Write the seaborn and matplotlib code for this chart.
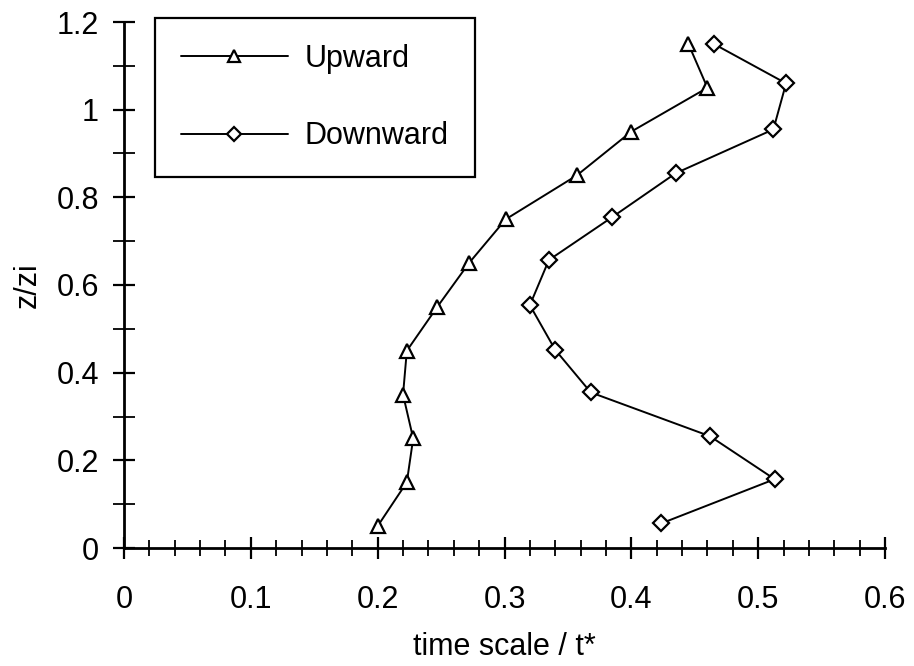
import matplotlib
matplotlib.use("Agg")
import matplotlib.pyplot as plt
import seaborn as sns
import pandas as pd
from matplotlib.ticker import MultipleLocator
from matplotlib.lines import Line2D

# data
z_levels = [1.15, 1.05, 0.95, 0.85, 0.75, 0.65, 0.55, 0.45, 0.35, 0.25, 0.15, 0.05]
upward = [0.445, 0.460, 0.400, 0.357, 0.301, 0.272, 0.247, 0.223, 0.220, 0.228, 0.223, 0.200]
z_down = [1.15, 1.06, 0.955, 0.855, 0.755, 0.657, 0.554, 0.452, 0.355, 0.255, 0.157, 0.056]
downward = [0.465, 0.522, 0.512, 0.435, 0.385, 0.335, 0.320, 0.340, 0.368, 0.462, 0.513, 0.4235]
series_names = ["Upward", "Downward"]
x_ticks = [0, 0.1, 0.2, 0.3, 0.4, 0.5, 0.6]
y_ticks = [0, 0.2, 0.4, 0.6, 0.8, 1, 1.2]

sns.set_style("ticks")
plt.rcParams["font.family"] = ["Liberation Sans", "DejaVu Sans"]
plt.rcParams["text.color"] = "black"
plt.rcParams["axes.labelcolor"] = "black"
plt.rcParams["xtick.color"] = "black"
plt.rcParams["ytick.color"] = "black"

df = pd.concat([
    pd.DataFrame({"t": upward, "z": z_levels, "dir": series_names[0]}),
    pd.DataFrame({"t": downward, "z": z_down, "dir": series_names[1]}),
], ignore_index=True)

fig = plt.figure(figsize=(9.14, 6.66), dpi=100)
ax = fig.add_axes([124 / 914, 1 - 548 / 666, (885 - 124) / 914, (548 - 22) / 666])

sns.lineplot(data=df, x="t", y="z", hue="dir", style="dir",
             palette={"Upward": "black", "Downward": "black"},
             markers={"Upward": "^", "Downward": "D"},
             dashes=False, sort=False, estimator=None, ax=ax,
             linewidth=1.4, markersize=10, markerfacecolor="white",
             markeredgecolor="black", markeredgewidth=1.6, legend=False)
for ln in ax.lines:
    if ln.get_marker() == "D":
        ln.set_markersize(8)

ax.set_xlim(0, 0.6)
ax.set_ylim(0, 1.2)
ax.set_xticks(x_ticks)
ax.set_xticklabels([f"{v:g}" for v in x_ticks])
ax.set_yticks(y_ticks)
ax.set_yticklabels([f"{v:g}" for v in y_ticks])
ax.xaxis.set_minor_locator(MultipleLocator(0.02))
ax.yaxis.set_minor_locator(MultipleLocator(0.1))
ax.tick_params(axis="both", which="major", direction="inout", length=16, width=1.6,
               labelsize=22, colors="black")
ax.tick_params(axis="x", which="minor", direction="inout", length=11, width=1.3)
ax.tick_params(axis="y", which="minor", direction="inout", length=16, width=1.3)
ax.tick_params(axis="x", which="major", pad=19)
ax.tick_params(axis="y", which="major", pad=10)

for s in ["top", "right"]:
    ax.spines[s].set_visible(False)
for s in ["left", "bottom"]:
    ax.spines[s].set_linewidth(2)
    ax.spines[s].set_color("black")

ax.set_xlabel("time scale / t*", fontsize=22, labelpad=12)
ax.set_ylabel("z/zi", fontsize=22, labelpad=10)

handles = [
    Line2D([], [], color="black", lw=1.4, marker="^", markersize=9,
           markerfacecolor="white", markeredgecolor="black", markeredgewidth=1.6),
    Line2D([], [], color="black", lw=1.4, marker="D", markersize=7,
           markerfacecolor="white", markeredgecolor="black", markeredgewidth=1.6),
]
leg = fig.legend(handles, series_names, loc="upper left",
                 bbox_to_anchor=(155 / 914, 1 - 18 / 666), bbox_transform=fig.transFigure,
                 fontsize=22, frameon=True, fancybox=False, framealpha=1,
                 edgecolor="black", handlelength=3.5, handletextpad=0.55,
                 labelspacing=1.55, borderpad=0.85, borderaxespad=0)
leg.get_frame().set_linewidth(1.6)

fig.savefig("out.png", dpi=100)
